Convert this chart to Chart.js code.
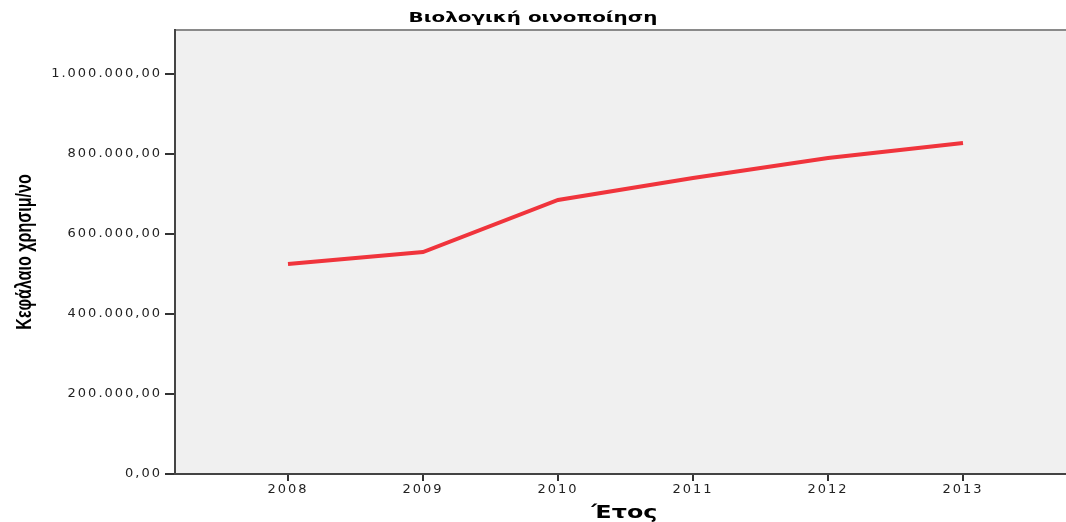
<!DOCTYPE html>
<html>
<head>
<meta charset="utf-8">
<title>Βιολογική οινοποίηση</title>
<script src="https://cdn.jsdelivr.net/npm/chart.js@4.4.1/dist/chart.umd.min.js"></script>
<style>
    html, body { margin: 0; padding: 0; background: #fff; }
    canvas { display: block; }
</style>
</head>
<body>
<canvas id="lineChart" width="1066" height="522"></canvas>
<script>
'use strict'

// data
var years = [2008, 2009, 2010, 2011, 2012, 2013];
var capital = [525000, 555000, 685000, 740000, 790000, 827500];
var yTicks = [0, 200000, 400000, 600000, 800000, 1000000];

var chartTitle = 'Βιολογική οινοποίηση';
var xTitle = 'Έτος';
var yTitle = 'Κεφάλαιο χρησιμ/νο';

// 1.000.000,00 style (greek locale)
function fmt(v) {
    var s = Math.round(v).toString().replace(/\B(?=(\d{3})+(?!\d))/g, '.');
    return s + ',00';
}

// the original picture is stretched sideways, so texts are drawn wide
function wideText(ctx, text, x, y, font, sx) {
    ctx.save();
    ctx.letterSpacing = '0px';
    ctx.font = font;
    ctx.fillStyle = '#000';
    ctx.textAlign = 'center';
    ctx.textBaseline = 'middle';
    ctx.translate(x, y);
    ctx.scale(sx, 1);
    ctx.fillText(text, 0, 0);
    ctx.restore();
}

var framePlugin = {
    id: 'frame',
    beforeDraw: function (chart) {
        var ctx = chart.ctx, a = chart.chartArea;
        ctx.letterSpacing = '2px';
        ctx.save();
        ctx.fillStyle = '#f0f0f0';
        ctx.fillRect(a.left, a.top, a.right - a.left, a.bottom - a.top);
        ctx.strokeStyle = '#8a8a8a';
        ctx.lineWidth = 2;
        ctx.beginPath();
        ctx.moveTo(a.left, a.top);
        ctx.lineTo(a.right, a.top);
        ctx.stroke();
        ctx.restore();
    },
    afterDraw: function (chart) {
        var ctx = chart.ctx, a = chart.chartArea;
        wideText(ctx, chartTitle, chart.width / 2, 18, 'bold 14px "DejaVu Sans"', 1.42);
        wideText(ctx, xTitle, (a.left + a.right) / 2 + 4, 514, 'bold 17px "DejaVu Sans"', 1.4);

        // y title: narrow and tall, rotated
        ctx.save();
        ctx.letterSpacing = '0px';
        ctx.font = 'bold 22px "Liberation Sans"';
        ctx.fillStyle = '#000';
        ctx.textAlign = 'center';
        ctx.textBaseline = 'middle';
        ctx.translate(25, (a.top + a.bottom) / 2);
        ctx.rotate(-Math.PI / 2);
        ctx.scale(0.73, 1);
        ctx.fillText(yTitle, 0, 0);
        ctx.restore();
    }
};

var points = years.map(function (y, i) {
    return { x: y, y: capital[i] };
});

new Chart(document.getElementById('lineChart'), {
    type: 'line',
    data: {
        datasets: [{
            label: yTitle,
            data: points,
            borderColor: '#f0343c',
            borderWidth: 4,
            pointRadius: 0,
            tension: 0,
            fill: false
        }]
    },
    plugins: [framePlugin],
    options: {
        responsive: false,
        animation: false,
        devicePixelRatio: 1,
        layout: { padding: { top: 30, right: 0, bottom: 0, left: 0 } },
        plugins: {
            legend: { display: false },
            tooltip: { enabled: false },
            title: { display: false }
        },
        scales: {
            x: {
                type: 'linear',
                min: years[0] - 0.837,
                max: years[years.length - 1] + 0.763,
                afterBuildTicks: function (s) {
                    s.ticks = years.map(function (v) { return { value: v }; });
                },
                afterFit: function (s) { s.height = 48; },
                grid: { drawOnChartArea: false, tickLength: 7, color: '#333', lineWidth: 2 },
                border: { color: '#444', width: 2 },
                ticks: {
                    color: '#222',
                    padding: 1,
                    maxRotation: 0,
                    font: { family: 'DejaVu Sans', size: 13 },
                    callback: function (v) { return String(v); }
                }
            },
            y: {
                min: 0,
                max: 1110000,
                afterBuildTicks: function (s) {
                    s.ticks = yTicks.map(function (v) { return { value: v }; });
                },
                afterFit: function (s) { s.width = 175; },
                grid: { drawOnChartArea: false, tickLength: 10, color: '#333', lineWidth: 2 },
                border: { color: '#444', width: 2 },
                ticks: {
                    color: '#222',
                    padding: 3,
                    font: { family: 'DejaVu Sans', size: 13 },
                    callback: function (v) { return fmt(v); }
                }
            }
        }
    }
});
</script>
</body>
</html>
